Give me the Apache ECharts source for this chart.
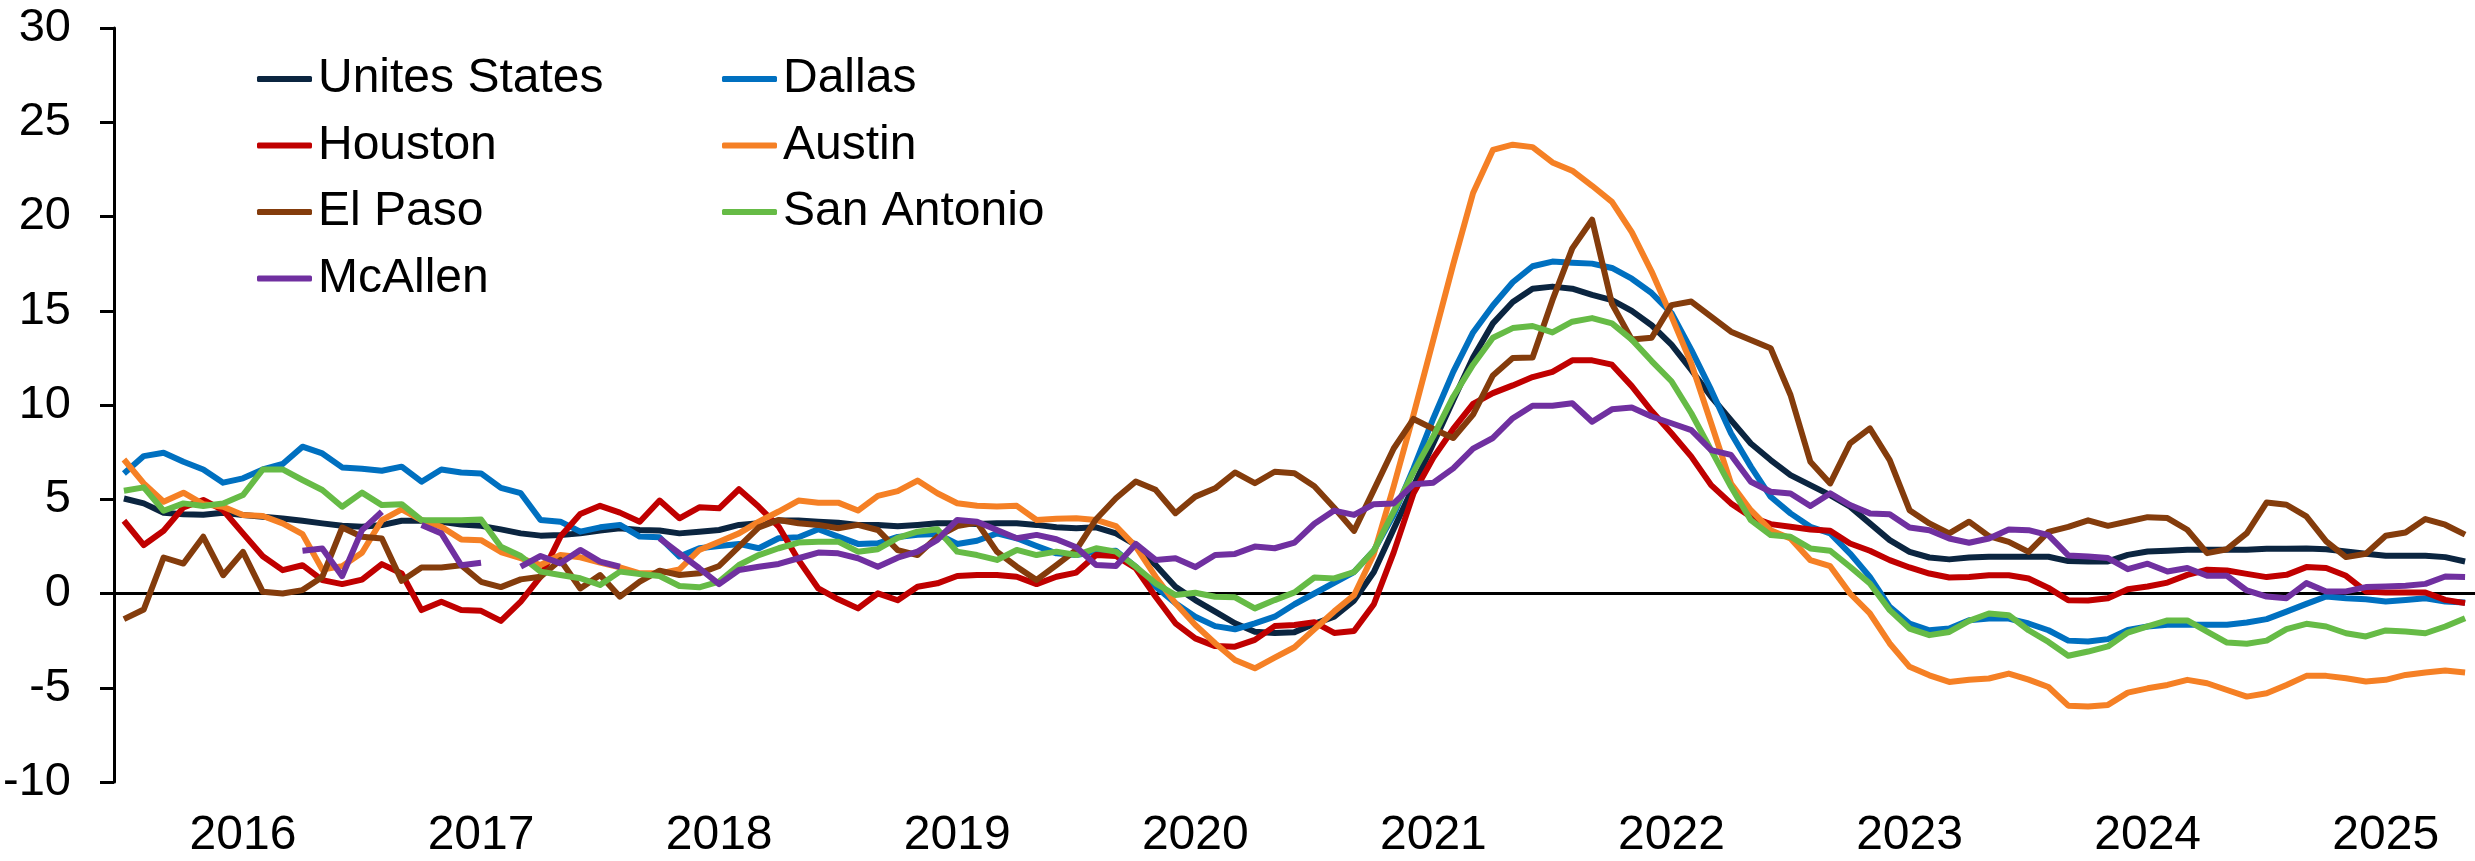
<!DOCTYPE html>
<html>
<head>
<meta charset="utf-8">
<title>Texas metros vs US</title>
<script src="https://cdn.jsdelivr.net/npm/echarts@6/dist/echarts.min.js"></script>
<style>
  html, body { margin: 0; padding: 0; background: #fff; }
  #chart { width: 2475px; height: 861px; }
</style>
</head>
<body>
<div id="chart"></div>
<script>
// monthly categories, Jan 2016 .. Nov 2025
const months = [];
for (let y = 2016; y <= 2025; y++) {
  for (let m = 1; m <= 12; m++) {
    if (y === 2025 && m > 11) break;
    months.push(y + '-' + String(m).padStart(2, '0'));
  }
}

const unitedStates = [
  5.04, 4.78, 4.28, 4.21, 4.18, 4.28, 4.16, 4.07, 3.98, 3.86, 3.72, 3.59, 3.54, 3.63, 3.86, 3.86, 3.8, 3.66, 3.59, 3.4,
  3.19, 3.07, 3.1, 3.19, 3.34, 3.46, 3.37, 3.34, 3.19, 3.27, 3.37, 3.64, 3.73, 3.87, 3.87, 3.81, 3.76, 3.64, 3.64, 3.57,
  3.64, 3.73, 3.73, 3.69, 3.73, 3.73, 3.64, 3.51, 3.46, 3.51, 3.19, 2.58, 1.51, 0.36, -0.35, -0.96, -1.58, -2.03, -2.1, -2.05,
  -1.61, -1.23, -0.38, 1.14, 3.42, 5.69, 7.97, 10.25, 12.52, 14.33, 15.46, 16.17, 16.28, 16.17, 15.84, 15.56, 14.99, 14.23, 13.2, 11.86,
  10.44, 9.2, 7.96, 7.08, 6.28, 5.75, 5.22, 4.6, 3.72, 2.83, 2.21, 1.91, 1.81, 1.91, 1.95, 1.95, 1.95, 1.95, 1.72, 1.7,
  1.7, 2.05, 2.23, 2.27, 2.32, 2.32, 2.32, 2.32, 2.37, 2.37, 2.39, 2.35, 2.23, 2.11, 2.0, 2.0, 2.0, 1.93, 1.7
];

const dallas = [
  6.37, 7.29, 7.47, 6.99, 6.58, 5.88, 6.11, 6.58, 6.87, 7.79, 7.43, 6.69, 6.62, 6.51, 6.73, 5.93, 6.58, 6.42, 6.37, 5.6,
  5.32, 3.9, 3.81, 3.28, 3.51, 3.64, 3.02, 2.98, 1.96, 2.4, 2.52, 2.63, 2.4, 2.93, 2.98, 3.41, 3.02, 2.63, 2.66, 3.0,
  3.11, 3.16, 2.63, 2.8, 3.19, 2.93, 2.52, 2.13, 2.04, 2.22, 2.27, 1.42, 0.36, -0.52, -1.23, -1.73, -1.9, -1.58, -1.23, -0.57,
  0, 0.57, 1.14, 2.28, 4.17, 6.64, 9.3, 11.76, 13.85, 15.28, 16.51, 17.36, 17.61, 17.55, 17.5, 17.27, 16.7, 15.94, 14.88, 12.92,
  10.8, 8.5, 6.73, 5.13, 4.25, 3.54, 3.19, 2.12, 0.88, -0.71, -1.59, -1.95, -1.86, -1.42, -1.33, -1.33, -1.59, -1.95, -2.5, -2.55,
  -2.42, -1.93, -1.75, -1.66, -1.66, -1.66, -1.66, -1.54, -1.36, -0.96, -0.55, -0.16, -0.25, -0.3, -0.42, -0.34, -0.25, -0.42, -0.48
];

const houston = [
  3.86, 2.57, 3.33, 4.57, 4.96, 4.42, 3.19, 1.98, 1.24, 1.5, 0.71, 0.5, 0.74, 1.56, 1.06, -0.88, -0.44, -0.88, -0.92, -1.45,
  -0.43, 0.89, 3.02, 4.22, 4.65, 4.29, 3.81, 4.93, 3.99, 4.57, 4.52, 5.53, 4.6, 3.55, 1.78, 0.27, -0.31, -0.79, 0.01, -0.36,
  0.36, 0.54, 0.93, 0.98, 0.98, 0.89, 0.5, 0.89, 1.11, 2.04, 1.99, 1.34, -0.17, -1.58, -2.38, -2.79, -2.82, -2.46, -1.73, -1.67,
  -1.52, -2.09, -1.99, -0.57, 2.18, 5.31, 7.21, 8.73, 10.06, 10.63, 11.04, 11.48, 11.76, 12.37, 12.37, 12.14, 11.0, 9.68, 8.5, 7.26,
  5.75, 4.78, 4.07, 3.68, 3.54, 3.4, 3.33, 2.65, 2.27, 1.77, 1.38, 1.06, 0.85, 0.88, 0.97, 0.97, 0.8, 0.3, -0.36, -0.37,
  -0.25, 0.23, 0.37, 0.58, 0.99, 1.26, 1.22, 1.04, 0.87, 0.99, 1.4, 1.35, 0.94, 0.11, 0.05, 0.05, 0.05, -0.34, -0.51
];

const austin = [
  7.11, 5.84, 4.87, 5.35, 4.74, 4.6, 4.16, 4.11, 3.72, 3.15, 1.27, 1.45, 2.16, 3.89, 4.46, 3.89, 3.54, 2.87, 2.83, 2.2,
  1.87, 1.51, 2.04, 1.92, 1.64, 1.39, 1.07, 1.07, 1.28, 2.31, 2.75, 3.19, 3.81, 4.35, 4.93, 4.82, 4.82, 4.4, 5.18, 5.43,
  5.99, 5.32, 4.79, 4.65, 4.61, 4.65, 3.9, 3.97, 3.99, 3.9, 3.58, 2.49, 0.89, -0.52, -1.67, -2.64, -3.53, -3.97, -3.4, -2.85,
  -1.9, -0.95, -0.09, 2.1, 5.69, 9.49, 13.47, 17.46, 21.25, 23.53, 23.81, 23.68, 22.87, 22.43, 21.63, 20.78, 19.17, 17.08, 14.7, 12.2,
  9.03, 5.84, 4.42, 3.36, 2.92, 1.77, 1.45, 0, -1.06, -2.65, -3.89, -4.34, -4.69, -4.57, -4.51, -4.25, -4.57, -4.96, -5.95, -6.0,
  -5.91, -5.26, -5.03, -4.85, -4.58, -4.76, -5.12, -5.47, -5.29, -4.85, -4.37, -4.37, -4.5, -4.67, -4.58, -4.32, -4.19, -4.09, -4.19
];

const elPaso = [
  -1.36, -0.85, 1.91, 1.59, 3.01, 0.97, 2.21, 0.09, 0, 0.18, 0.88, 3.5, 3.01, 2.92, 0.67, 1.38, 1.38, 1.5, 0.62, 0.34,
  0.75, 0.89, 1.78, 0.27, 0.98, -0.17, 0.63, 1.21, 0.98, 1.07, 1.46, 2.49, 3.51, 3.9, 3.73, 3.64, 3.46, 3.64, 3.37, 2.3,
  2.04, 3.02, 3.58, 3.76, 2.22, 1.42, 0.72, 1.51, 2.31, 3.94, 5.05, 5.94, 5.5, 4.26, 5.14, 5.58, 6.42, 5.85, 6.46, 6.38,
  5.69, 4.55, 3.32, 5.5, 7.69, 9.26, 8.73, 8.25, 9.49, 11.57, 12.49, 12.52, 15.56, 18.31, 19.83, 15.37, 13.47, 13.57, 15.3, 15.49,
  14.69, 13.89, 13.45, 13.01, 10.53, 6.99, 5.84, 7.96, 8.76, 7.08, 4.42, 3.72, 3.19, 3.81, 3.04, 2.74, 2.21, 3.27, 3.53, 3.88,
  3.59, 3.82, 4.05, 4.0, 3.38, 2.14, 2.35, 3.2, 4.83, 4.71, 4.09, 2.76, 1.93, 2.11, 3.06, 3.24, 3.95, 3.65, 3.12
];

const sanAntonio = [
  5.45, 5.63, 4.39, 4.78, 4.64, 4.78, 5.22, 6.58, 6.58, 6.02, 5.49, 4.6, 5.35, 4.69, 4.74, 3.89, 3.89, 3.89, 3.93, 2.48,
  1.99, 1.16, 0.98, 0.81, 0.45, 1.16, 1.04, 0.93, 0.4, 0.33, 0.63, 1.51, 2.04, 2.4, 2.7, 2.75, 2.75, 2.22, 2.35, 2.95,
  3.28, 3.41, 2.22, 2.04, 1.78, 2.31, 2.04, 2.22, 2.04, 2.4, 2.22, 1.42, 0.54, -0.08, 0.04, -0.17, -0.2, -0.79, -0.35, 0.06,
  0.85, 0.8, 1.14, 2.28, 4.36, 6.45, 8.35, 10.44, 12.14, 13.57, 14.08, 14.19, 13.85, 14.42, 14.61, 14.33, 13.47, 12.33, 11.26, 9.56,
  7.61, 5.66, 3.89, 3.1, 3.01, 2.39, 2.27, 1.42, 0.53, -0.88, -1.86, -2.21, -2.04, -1.45, -1.06, -1.15, -1.95, -2.57, -3.3, -3.08,
  -2.81, -2.07, -1.75, -1.43, -1.43, -2.02, -2.6, -2.67, -2.5, -1.89, -1.61, -1.75, -2.11, -2.28, -1.96, -2.02, -2.11, -1.75, -1.31
];

// McAllen has gaps in the early years
const mcAllen = [
  null, null, null, null, null, null, null, null, null, 2.27, 2.39, 0.92, 3.36, 4.34, null, 3.63, 3.19, 1.5, 1.63, null,
  1.42, 1.99, 1.6, 2.31, 1.69, 1.42, null, 2.93, 2.13, 1.34, 0.5, 1.25, 1.42, 1.57, 1.87, 2.17, 2.13, 1.87, 1.42, 1.9,
  2.22, 2.84, 3.9, 3.81, 3.37, 2.93, 3.11, 2.88, 2.45, 1.51, 1.46, 2.63, 1.78, 1.87, 1.4, 2.04, 2.1, 2.49, 2.4, 2.7,
  3.7, 4.4, 4.17, 4.74, 4.78, 5.79, 5.88, 6.64, 7.69, 8.25, 9.3, 9.96, 9.96, 10.09, 9.11, 9.77, 9.87, 9.39, 9.03, 8.67,
  7.61, 7.35, 5.93, 5.4, 5.31, 4.64, 5.31, 4.69, 4.25, 4.21, 3.5, 3.36, 2.92, 2.69, 2.92, 3.4, 3.36, 3.1, 2.02, 1.96,
  1.88, 1.29, 1.58, 1.17, 1.35, 0.94, 0.94, 0.16, -0.16, -0.25, 0.55, 0.11, 0.11, 0.34, 0.37, 0.41, 0.51, 0.9, 0.87
];

const seriesList = [
  { name: 'Unites States', data: unitedStates, color: '#0B2540' },
  { name: 'Dallas', data: dallas, color: '#0070C0' },
  { name: 'Houston', data: houston, color: '#C00000' },
  { name: 'Austin', data: austin, color: '#F58025' },
  { name: 'El Paso', data: elPaso, color: '#843C0C' },
  { name: 'San Antonio', data: sanAntonio, color: '#66BB46' },
  { name: 'McAllen', data: mcAllen, color: '#7030A0' }
];

const font = '"Liberation Sans", Arial, sans-serif';

const legendBase = {
  orient: 'vertical',
  top: 54,
  padding: 0,
  itemWidth: 55,
  itemHeight: 6,
  itemGap: 16.5,
  icon: 'roundRect',
  textStyle: { fontSize: 48, fontFamily: font, color: '#000', lineHeight: 50, padding: [0, 0, 0, 1] }
};

const chart = echarts.init(document.getElementById('chart'));

chart.setOption({
  animation: false,
  backgroundColor: '#fff',
  legend: [
    Object.assign({}, legendBase, { left: 257, data: ['Unites States', 'Houston', 'El Paso', 'McAllen'] }),
    Object.assign({}, legendBase, { left: 722, data: ['Dallas', 'Austin', 'San Antonio'] })
  ],
  grid: { left: 114, right: 0, top: 28, bottom: 79 },
  xAxis: [
    {
      type: 'category',
      data: months,
      boundaryGap: true,
      axisLine: { onZero: true, lineStyle: { color: '#000', width: 3 } },
      axisTick: { interval: (i) => i % 12 === 0, length: 14, lineStyle: { color: '#000', width: 3 } },
      axisLabel: { show: false },
      splitLine: { show: false }
    },
    {
      type: 'category',
      data: months,
      position: 'bottom',
      boundaryGap: true,
      axisLine: { show: false, onZero: false },
      axisTick: { show: false },
      axisLabel: {
        interval: (i) => i % 12 === 6,
        formatter: (v) => v.slice(0, 4),
        fontSize: 48,
        fontFamily: font,
        color: '#000',
        margin: 30
      },
      splitLine: { show: false }
    }
  ],
  yAxis: {
    type: 'value',
    min: -10,
    max: 30,
    interval: 5,
    axisLine: { show: true, lineStyle: { color: '#000', width: 3 } },
    axisTick: { show: true, length: 14, lineStyle: { color: '#000', width: 3 } },
    axisLabel: { fontSize: 47, fontFamily: font, color: '#000', margin: 43 },
    splitLine: { show: false }
  },
  series: seriesList.map((s) => ({
    name: s.name,
    type: 'line',
    xAxisIndex: 0,
    data: s.data,
    symbol: 'none',
    connectNulls: false,
    color: s.color,
    lineStyle: { width: 6, color: s.color, join: 'round' },
    emphasis: { disabled: true }
  }))
});
</script>
</body>
</html>
